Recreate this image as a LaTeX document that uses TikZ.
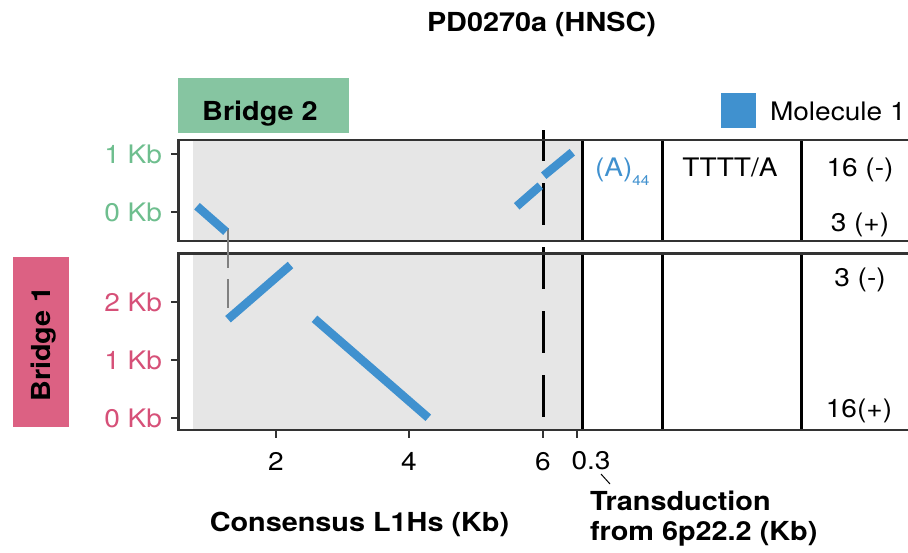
\documentclass[tikz,border=0pt]{standalone}
\usepackage{fontspec}
\setmainfont[FakeStretch=1.1]{TeX Gyre Heros}
\definecolor{bblue}{RGB}{64,145,207}
\definecolor{gbox}{RGB}{134,197,161}
\definecolor{gtext}{RGB}{110,190,142}
\definecolor{pbox}{RGB}{220,97,131}
\definecolor{ptext}{RGB}{214,80,120}
\definecolor{panelgray}{RGB}{230,230,230}
\definecolor{framegray}{RGB}{51,51,51}
\newcommand{\mainsz}{\fontsize{25.5}{30}\selectfont}
\newcommand{\boldsz}{\fontsize{26.2}{30}\selectfont}
\newcommand{\subsz}{\fontsize{14}{14}\selectfont}
\begin{document}
\begin{tikzpicture}[x=1pt,y=-1pt,
  every node/.style={inner sep=0pt, outer sep=0pt, font=\mainsz},
  panelframe/.style={draw=framegray, line width=2.6pt},
  tickmark/.style={draw=framegray, line width=2.6pt},
  vline/.style={draw=black, line width=3pt},
  bar/.style={draw=bblue, line width=8.5pt, line cap=butt},
  boldlab/.style={font=\boldsz\bfseries},
  ylabg/.style={anchor=base east, text=gtext},
  ylabp/.style={anchor=base east, text=ptext},
  xlab/.style={anchor=base},
  cell/.style={anchor=base}]
\useasboundingbox (0,0) rectangle (908,552);
\clip (0,0) rectangle (908,552);

% title
\node[boldlab, anchor=base] (title) at (541.5,31) {PD0270a (HNSC)};

% legend
\fill[bblue] (721,93) rectangle (756,128);
\node[anchor=base west] (legtext) at (770,120) {Molecule 1};

% strip labels
\node[fill=gbox, minimum width=171pt, minimum height=55pt] (b2box) at (263.5,105.5) {};
\node[boldlab, anchor=base] (b2text) at (260,120.7) {Bridge 2};
\node[fill=pbox, minimum width=56pt, minimum height=170pt] (b1box) at (41,342) {};
\node[boldlab, anchor=base, rotate=90] (b1text) at (50.5,344) {Bridge 1};

% panel backgrounds
\fill[panelgray] (193,140) rectangle (582,241);
\fill[panelgray] (193,253.5) rectangle (582,430);

% dashed position line
\coordinate (d1) at (543,130);
\coordinate (d2) at (543,430);
\draw[black, line width=3pt, dash pattern=on 42pt off 22pt, dash phase=11pt] (d1) -- (d2);

% vertical separators
\foreach \x in {582,662,801} {
  \draw[vline] (\x,140) -- (\x,241);
  \draw[vline] (\x,253.5) -- (\x,430);
}

% panel frames
\draw[panelframe] (178.5,140) rectangle (915,241);
\draw[panelframe] (178.5,253.5) rectangle (915,430);

% ticks
\foreach \y in {154,212,302,360,418} \draw[tickmark] (171,\y) -- (178.5,\y);
\foreach \x in {276,409,543,577} \draw[tickmark] (\x,430) -- (\x,438);

% gray connector
\coordinate (g1) at (228,228);
\coordinate (g2) at (228,308);
\draw[gray, line width=1.1pt, dash pattern=on 40pt off 11pt] (g1) -- (g2);

% blue alignment bars
\coordinate (a1) at (197,206.2);  \coordinate (a2) at (226,231.7);
\coordinate (c1) at (516.7,206.3); \coordinate (c2) at (540.3,185.7);
\coordinate (e1) at (543.7,175.7); \coordinate (e2) at (572.3,152.2);
\coordinate (f1) at (228,319.2);  \coordinate (f2) at (290.5,265);
\coordinate (h1) at (314.5,318.8); \coordinate (h2) at (428.3,417.8);
\draw[bar] (a1) -- (a2);
\draw[bar] (c1) -- (c2);
\draw[bar] (e1) -- (e2);
\draw[bar] (f1) -- (f2);
\draw[bar] (h1) -- (h2);

% y labels
\node[ylabg] (y21) at (162,163) {1 Kb};
\node[ylabg] (y20) at (162,221) {0 Kb};
\node[ylabp] (y12) at (162,311) {2 Kb};
\node[ylabp] (y11) at (162,369) {1 Kb};
\node[ylabp] (y10) at (162,427) {0 Kb};

% x labels
\node[xlab] (x2) at (276,470) {2};
\node[xlab] (x4) at (409,470) {4};
\node[xlab] (x6) at (543,470) {6};
\node[xlab] (x03) at (591,469) {0.3};
\node[boldlab, anchor=base] (xtitle) at (359.5,531.5) {Consensus L1Hs (Kb)};
\node[boldlab, anchor=base west] (tr1) at (590,510) {Transduction};
\node[boldlab, anchor=base west] (tr2) at (590,540) {from 6p22.2 (Kb)};
\coordinate (t1) at (601,474);
\coordinate (t2) at (610,484);
\draw[black, line width=1pt] (t1) -- (t2);

% table cells
\node[anchor=base west, text=bblue] (polyA) at (595,176) {(A)\raisebox{-9pt}{\subsz 44}};
\node[cell] (tttt) at (730,176) {TTTT/A};
\node[cell] (c16m) at (860,176) {16 (-)};
\node[cell] (c3p) at (860,231.5) {3 (+)};
\node[cell] (c3m) at (860,286.5) {3 (-)};
\node[cell] (c16p) at (859,417) {16(+)};
\end{tikzpicture}
\end{document}
